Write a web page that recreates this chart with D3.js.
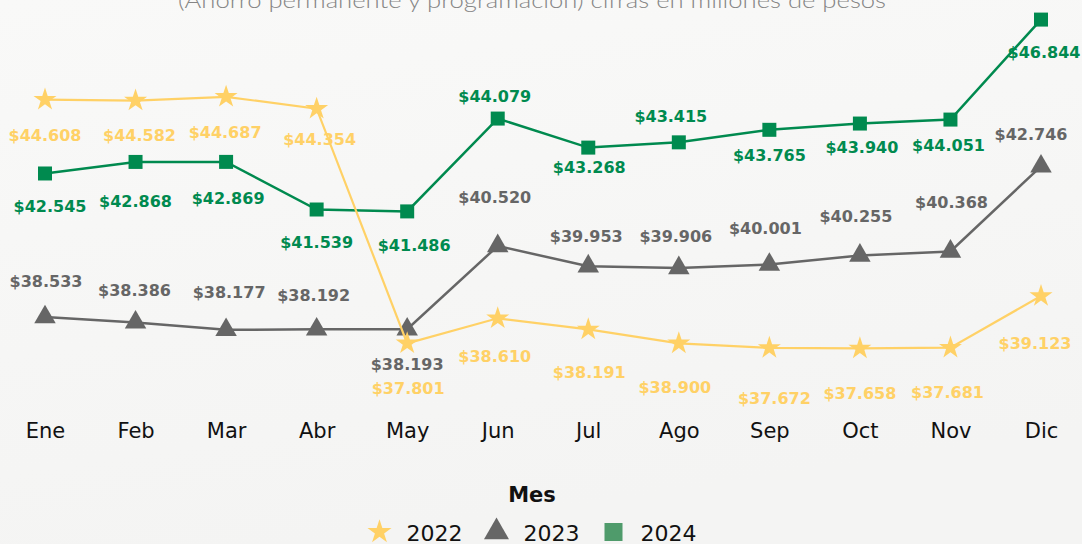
<!DOCTYPE html>
<meta charset="utf-8">
<style>

    body {
        margin: 0;
        background: #f6f6f5;
    }

    svg {
        display: block;
    }

    .title {
        font: 300 22px Lato, "DejaVu Sans", sans-serif;
        fill: #858585;
    }

    .x.axis text {
        font: 21px "DejaVu Sans", sans-serif;
        fill: #111;
    }

    .value {
        font: bold 16px "DejaVu Sans", sans-serif;
    }

    .legend-title {
        font: bold 21px "DejaVu Sans", sans-serif;
        fill: #111;
    }

    .legend text {
        font: 22px "DejaVu Sans", sans-serif;
        fill: #111;
    }

    path.line {
        fill: none;
    }

</style>
<body>
<script src="https://cdn.jsdelivr.net/npm/d3@7/dist/d3.min.js"></script>
<script>

    // months on the x axis
    var months = ["Ene", "Feb", "Mar", "Abr", "May", "Jun", "Jul", "Ago", "Sep", "Oct", "Nov", "Dic"];

    // millions of pesos, as plotted
    var values2022 = [44608, 44582, 44687, 44354, 37801, 38500, 38191, 37800, 37672, 37658, 37681, 39123];
    var values2023 = [38533, 38386, 38177, 38192, 38193, 40520, 39953, 39906, 40001, 40255, 40368, 42746];
    var values2024 = [42545, 42868, 42869, 41539, 41486, 44079, 43268, 43415, 43765, 43940, 44051, 46844];

    // 2022 labels as printed (two of them don't sit where their point is drawn)
    var printed2022 = [44608, 44582, 44687, 44354, 37801, 38610, 38191, 38900, 37672, 37658, 37681, 39123];

    // where each value label sits relative to its point [dx, dy]
    var offsets2022 = [[0,36],[4,35],[-1,35],[3,31],[1,45],[-3,38],[1,43],[-4,44],[5,50],[0,45],[-3,45],[-6,47]];
    var offsets2023 = [[1,-36],[-1,-32],[3,-38],[-3,-34],[0,35],[-3,-49],[-2,-30],[-3,-32],[-4,-36],[-4,-39],[1,-49],[-10,-32]];
    var offsets2024 = [[5,33],[0,39],[2,36],[0,33],[7,34],[-3,-22],[1,20],[-8,-26],[0,25],[2,24],[-2,26],[3,33]];

    var width = 1082, height = 544;

    var locale = d3.formatLocale({decimal: ",", thousands: ".", grouping: [3], currency: ["$", ""]});
    var fmt = locale.format("$,.0f");

    var series = [
        {name: "2024", values: values2024, labels: values2024, offsets: offsets2024,
            color: "#008a4f", legendColor: "#4f9b6b", symbol: d3.symbolSquare, size: 196, legendSize: 324, stroke: 2.5},
        {name: "2023", values: values2023, labels: values2023, offsets: offsets2023,
            color: "#666666", legendColor: "#666666", symbol: d3.symbolTriangle, size: 200, legendSize: 270, stroke: 2.5},
        {name: "2022", values: values2022, labels: printed2022, offsets: offsets2022,
            color: "#ffd166", legendColor: "#ffd166", symbol: d3.symbolStar, size: 164, legendSize: 180, stroke: 2.2}
    ];

    var x = d3.scalePoint()
            .domain(months)
            .range([45, 1041]);

    var y = d3.scaleLinear()
            .domain([37000, 47000])
            .range([372, 14]);

    var svg = d3.select("body").append("svg")
            .attr("width", width)
            .attr("height", height);

    var grad = svg.append("defs").append("linearGradient")
            .attr("id", "bg")
            .attr("x1", 0).attr("y1", 0).attr("x2", 0.3).attr("y2", 1);
    grad.append("stop").attr("offset", 0).attr("stop-color", "#f9f9f8");
    grad.append("stop").attr("offset", 1).attr("stop-color", "#f4f4f3");

    svg.append("rect")
            .attr("width", width)
            .attr("height", height)
            .attr("fill", "url(#bg)");

    svg.append("text")
            .attr("class", "title")
            .attr("x", 532)
            .attr("y", 8)
            .attr("text-anchor", "middle")
            .attr("textLength", 708)
            .attr("lengthAdjust", "spacingAndGlyphs")
            .text("(Ahorro permanente y programación) cifras en millones de pesos");

    var xAxis = d3.axisBottom(x).tickSize(0).tickPadding(0);

    svg.append("g")
            .attr("class", "x axis")
            .attr("transform", "translate(0,423)")
            .call(xAxis)
            .call(function(g) { g.select(".domain").remove(); })
            .selectAll("text")
            .attr("dy", "0.71em")
            .attr("font-family", null)
            .attr("font-size", null);

    var line = d3.line()
            .x(function(d, i) { return x(months[i]); })
            .y(function(d) { return y(d); });

    series.forEach(function(s) {
        var g = svg.append("g").attr("class", "series");

        g.append("path")
                .attr("class", "line")
                .attr("d", line(s.values))
                .attr("stroke", s.color)
                .attr("stroke-width", s.stroke);

        g.selectAll("path.mark")
                .data(s.values)
                .enter().append("path")
                .attr("class", "mark")
                .attr("transform", function(d, i) { return "translate(" + x(months[i]) + "," + y(d) + ")"; })
                .attr("d", d3.symbol().type(s.symbol).size(s.size))
                .attr("fill", s.color);
    });

    // value labels go on top of every line
    series.forEach(function(s) {
        svg.append("g")
                .selectAll("text")
                .data(s.values)
                .enter().append("text")
                .attr("class", "value")
                .attr("x", function(d, i) { return x(months[i]) + s.offsets[i][0]; })
                .attr("y", function(d, i) { return y(d) + s.offsets[i][1]; })
                .attr("dy", "0.36em")
                .attr("text-anchor", "middle")
                .attr("fill", s.color)
                .text(function(d, i) { return fmt(s.labels[i]); });
    });

    // legend
    svg.append("text")
            .attr("class", "legend-title")
            .attr("x", 532)
            .attr("y", 502)
            .attr("text-anchor", "middle")
            .text("Mes");

    var legend = svg.append("g").attr("class", "legend");
    var cursor = 0;
    series.slice().reverse().forEach(function(s) {
        var item = legend.append("g").attr("transform", "translate(" + cursor + ",0)");
        item.append("path")
                .attr("transform", "translate(12,-9)")
                .attr("d", d3.symbol().type(s.symbol).size(s.legendSize))
                .attr("fill", s.legendColor);
        var t = item.append("text")
                .attr("x", 39)
                .attr("y", 0)
                .text(s.name);
        cursor += 39 + t.node().getComputedTextLength() + 22;
    });
    cursor -= 22;
    legend.attr("transform", "translate(" + (532 - cursor / 2) + ",541)");

</script>
